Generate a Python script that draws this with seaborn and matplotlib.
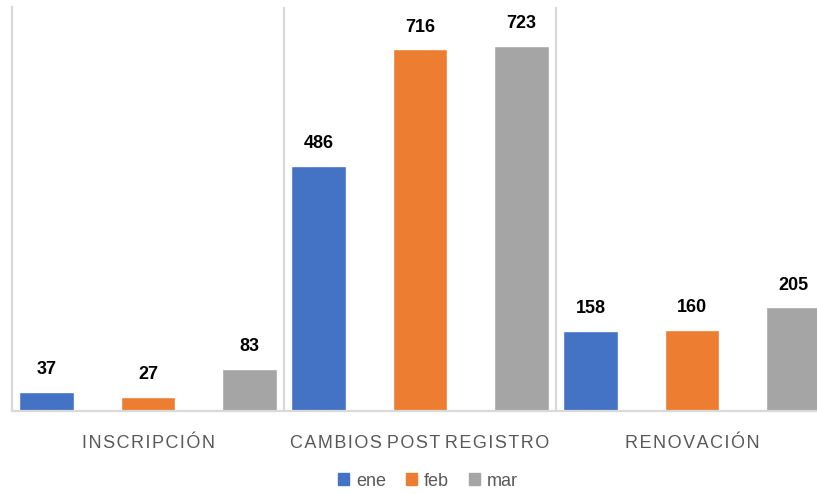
import pandas as pd
import numpy as np
import seaborn as sns
import matplotlib.pyplot as plt
from matplotlib.patches import Patch

# data
categorias = ['INSCRIPCIÓN', 'CAMBIOS POST REGISTRO', 'RENOVACIÓN']
meses = ['ene', 'feb', 'mar']
ene = [37, 486, 158]
feb = [27, 716, 160]
mar = [83, 723, 205]
colores = ['#4472C4', '#ED7D31', '#A5A5A5']

df = pd.DataFrame({
    'categoria': categorias * 3,
    'mes': ['ene'] * 3 + ['feb'] * 3 + ['mar'] * 3,
    'valor': ene + feb + mar,
})

sns.set_style('white')
plt.rcParams['font.family'] = ['Liberation Sans', 'DejaVu Sans']

fig = plt.figure(figsize=(8.17, 4.94), dpi=100)
ax = fig.add_axes([12 / 817, 83 / 494, 816 / 817, 404 / 494])

sns.barplot(data=df, x='categoria', y='valor', hue='mes', order=categorias,
            hue_order=meses, palette=colores, width=1.12, gap=0.46,
            saturation=1, legend=False, ax=ax)

ax.set_xlim(-0.5, 2.5)
ax.set_ylim(0, 800)
ax.set_xlabel('')
ax.set_ylabel('')
ax.set_yticks([])
ax.tick_params(axis='x', length=0, pad=17)

def espaciar(s):
    return ' '.join('\u200a'.join(w) for w in s.split(' '))

ax.set_xticks(range(3))
ax.set_xticklabels([espaciar(c) for c in categorias], fontsize=13, color='#595959')

for sp in ['top', 'right']:
    ax.spines[sp].set_visible(False)
for sp in ['left', 'bottom']:
    ax.spines[sp].set_color('#d9d9d9')
    ax.spines[sp].set_linewidth(1.6)
for xv in [0.5, 1.5]:
    ax.axvline(xv, color='#d9d9d9', lw=1.6)

for cont in ax.containers:
    ax.bar_label(cont, fmt='%d', padding=10, fontsize=13, fontweight='bold',
                 color='black')

handles = [Patch(color=c, label=m) for c, m in zip(colores, meses)]
fig.legend(handles=handles, loc='center', bbox_to_anchor=(428 / 817, 1 - 481 / 494),
           ncol=3, frameon=False, fontsize=13, handlelength=0.6, handleheight=0.6,
           handletextpad=0.4, columnspacing=1.1, labelcolor='#595959')

fig.savefig('out.png', dpi=100)
